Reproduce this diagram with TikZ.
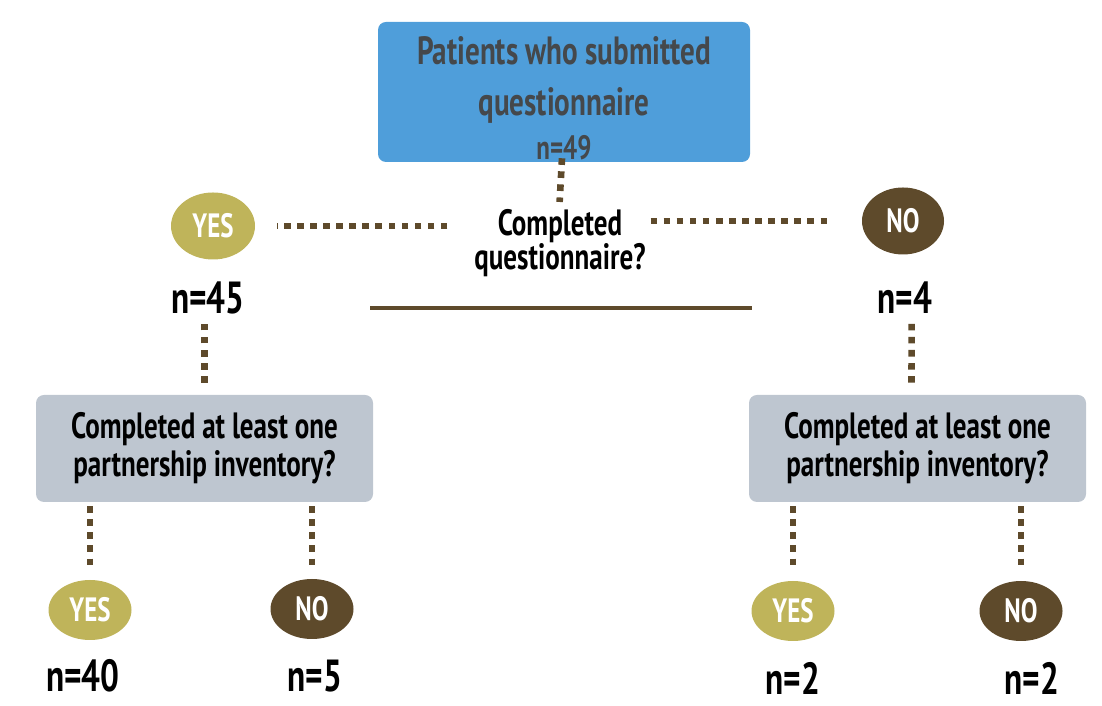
\documentclass[tikz,border=0pt]{standalone}
\usepackage{fontspec}
\setmainfont{PT Sans}
\newfontfamily\condfont[FakeStretch=0.74]{PT Sans}
\usetikzlibrary{shapes.geometric}
\usetikzlibrary{positioning}

\definecolor{boxblue}{HTML}{4F9EDA}
\definecolor{boxgray}{HTML}{BEC6D0}
\definecolor{textgray}{HTML}{45484B}
\definecolor{yesolive}{HTML}{BFB45A}
\definecolor{nobrown}{HTML}{5E4A2B}

\tikzset{
  dotline/.style={draw=nobrown, line width=4.7pt, dash pattern=on 4.7pt off 4.6pt},
  yesdot/.style={ellipse, fill=yesolive, minimum width=2.1cm, minimum height=1.675cm, inner sep=0pt, text=white, font=\condfont\bfseries\fontsize{24}{26}\selectfont},
  nodot/.style={ellipse, fill=nobrown, minimum width=2.05cm, minimum height=1.675cm, inner sep=0pt, text=white, font=\condfont\bfseries\fontsize{24}{26}\selectfont},
  qbox/.style={rectangle, rounded corners=0.2cm, fill=boxgray, minimum width=8.425cm, minimum height=2.675cm, align=center, font=\condfont\bfseries\fontsize{26}{27}\selectfont},
  count/.style={font=\condfont\bfseries\fontsize{32}{34}\selectfont, inner sep=1pt}
}

\begin{document}
\begin{tikzpicture}
\useasboundingbox (0,0) rectangle (27.55,17.65);

% top box
\node[rectangle, rounded corners=0.2cm, fill=boxblue, minimum width=9.3cm, minimum height=3.5cm] (top) at (14.1,15.35) {};
\node[text=textgray, align=center, font=\condfont\bfseries\fontsize{28}{36}\selectfont] (toptext) at (14.1,15.65) {Patients who submitted\\questionnaire};
\node[text=textgray, font=\condfont\bfseries\fontsize{24}{26}\selectfont] (n49) at (14.1,13.95) {n=49};

% first question
\node[align=center, font=\condfont\bfseries\fontsize{26}{24}\selectfont] (q1) at (14.0,11.575) {Completed\\questionnaire?};
\node[yesdot] (yesA) at (5.325,12.0) {YES};
\node[nodot] (noA) at (22.575,12.125) {NO};
\node[count] (nA) at (5.2,10.2) {n=45};
\node[count] (nB) at (22.625,10.2) {n=4};
\draw[nobrown, line width=2.2pt] (9.25,9.95) -- (18.8,9.95);

\draw[dotline] (top.south) ++(-0.05,0.1) -- (13.99,12.6);
\draw[dotline, shorten <=0.55cm, shorten >=0.55cm] (yesA.east -| q1.west) -- (yesA.east);
\draw[dotline, shorten <=0.0cm, shorten >=0.85cm] (noA.west -| q1.east) -- (noA.west);

% second questions
\node[qbox] (boxL) at (5.1125,6.4375) {Completed at least one\\partnership inventory?};
\node[qbox] (boxR) at (22.9375,6.4375) {Completed at least one\\partnership inventory?};

\draw[dotline, shorten <=0.3cm, shorten >=0.2cm] (boxL.north) -- (boxL.north |- nA.south);
\draw[dotline, shorten <=0.3cm, shorten >=0.2cm] (boxR.north) ++(-0.15,0) -- (22.79,9.8);

% answers
\node[yesdot, minimum width=2.075cm, minimum height=1.5cm] (yesB) at (2.25,2.4) {YES};
\node[nodot, minimum width=2.075cm, minimum height=1.5cm] (noB) at (7.8,2.425) {NO};
\node[yesdot, minimum width=2.075cm, minimum height=1.5cm] (yesC) at (19.825,2.375) {YES};
\node[nodot, minimum width=2.075cm, minimum height=1.5cm] (noC) at (25.525,2.375) {NO};

\draw[dotline, shorten <=0.1cm, shorten >=0.35cm] (yesB.north |- boxL.south) -- (yesB.north);
\draw[dotline, shorten <=0.1cm, shorten >=0.35cm] (noB.north |- boxL.south) -- (noB.north);
\draw[dotline, shorten <=0.1cm, shorten >=0.35cm] (yesC.north |- boxR.south) -- (yesC.north);
\draw[dotline, shorten <=0.1cm, shorten >=0.35cm] (noC.north |- boxR.south) -- (noC.north);

\node[count] (nC) at (2.075,0.75) {n=40};
\node[count] (nD) at (7.875,0.75) {n=5};
\node[count] (nE) at (19.825,0.68) {n=2};
\node[count] (nF) at (25.8,0.68) {n=2};

\end{tikzpicture}
\end{document}
